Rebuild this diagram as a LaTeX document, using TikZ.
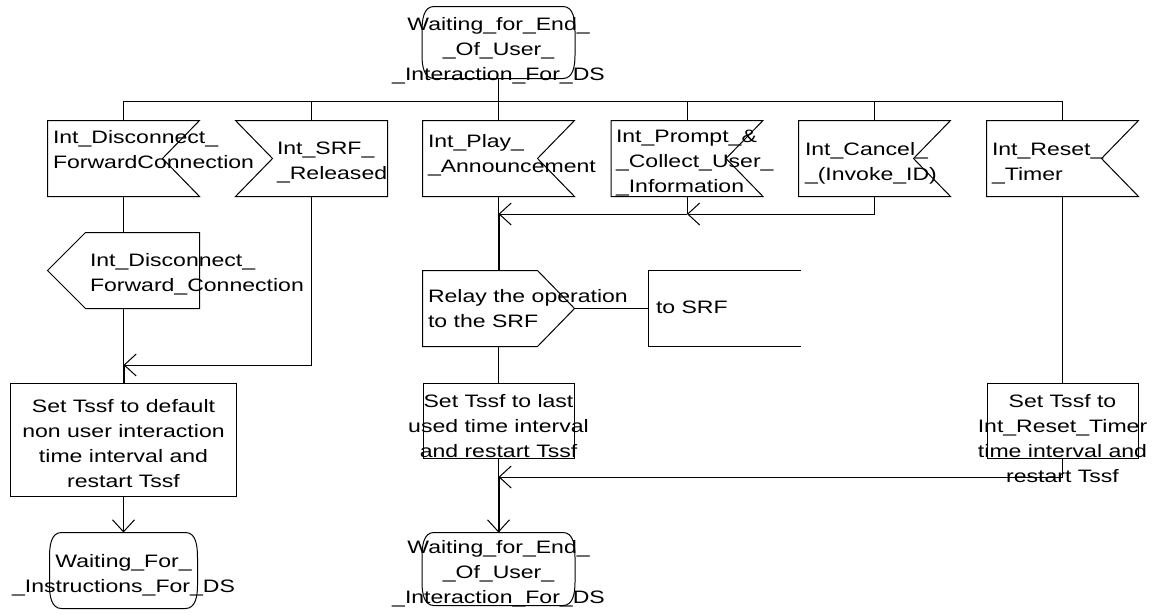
\documentclass[tikz,border=0pt]{standalone}
\usepackage{fontspec}
\setmainfont{Liberation Sans}[FakeStretch=1.28]
\usetikzlibrary{arrows.meta, positioning, calc}
\hyphenpenalty=10000

% text that may run over the edge of its symbol
\newcommand{\ctext}[2]{\smash{\makebox[0pt]{\raisebox{#1}{\begin{tabular}{@{}c@{}}#2\end{tabular}}}}}
\newcommand{\ltext}[3]{\smash{\makebox[0pt][l]{\hspace*{#1}\raisebox{#2}{\begin{tabular}{@{}l@{}}#3\end{tabular}}}}}

\tikzset{
  every node/.style={font=\fontsize{18}{25}\selectfont, inner sep=0pt},
  sdlstate/.style={minimum width=152pt, minimum height=72pt},
  sdltask/.style={draw, minimum width=151pt, minimum height=75pt},
  sdlsym/.style={minimum width=151pt, minimum height=75pt},
  merge/.style={line width=2pt},
}

\begin{document}
\begin{tikzpicture}[x=1pt, y=-1pt, line width=1pt, >={Straight Barb[length=12pt, width=22pt]}]
    \useasboundingbox (0,0) rectangle (1152,614);

    % state
    \node[sdlstate, minimum height=71pt] (waitend) at (498.5,42.5) {\ctext{-12pt}{Waiting\_for\_End\_\\\_Of\_User\_\\\_Interaction\_For\_DS}};
    \coordinate (bus) at (498.5,101);

    % inputs
    \node[sdlsym] (disc) at (123.5,158.5) {\ltext{-70.5pt}{3.5pt}{Int\_Disconnect\_\\ForwardConnection}};
    \node[sdlsym] (srfrel) at (311.5,158.5) {\ltext{-34.5pt}{-7.5pt}{Int\_SRF\_\\\_Released}};
    \node[sdlsym] (play) at (498.5,158.5) {\ltext{-70.5pt}{-0.5pt}{Int\_Play\_\\\_Announcement}};
    \node[sdlsym] (prompt) at (687,158.5) {\ltext{-71pt}{-8.5pt}{Int\_Prompt\_\&\\\_Collect\_User\_\\\_Information}};
    \node[sdlsym] (cancel) at (874.5,158.5) {\ltext{-69.5pt}{-8.5pt}{Int\_Cancel\_\\\_(Invoke\_ID)}};
    \node[sdlsym] (reset) at (1062.5,158.5) {\ltext{-70.5pt}{-8.5pt}{Int\_Reset\_\\\_Timer}};
    \foreach \n in {disc,play,prompt,cancel,reset}
        \draw (\n.north west) -- (\n.north east) -- ([xshift=-37pt]\n.east) -- (\n.south east) -- (\n.south west) -- cycle;
    \draw (srfrel.north east) -- (srfrel.north west) -- ([xshift=37pt]srfrel.west) -- (srfrel.south west) -- (srfrel.south east) -- cycle;

    % outputs
    \node[sdlsym] (discfwd) at (123.5,270.5) {\ltext{-33.5pt}{-8pt}{Int\_Disconnect\_\\Forward\_Connection}};
    \draw (discfwd.north east) -- ([xshift=38pt]discfwd.north west) -- (discfwd.west) -- ([xshift=38pt]discfwd.south west) -- (discfwd.south east) -- cycle;
    \node[sdlsym] (relay) at (498.5,308.5) {\ltext{-70.5pt}{-6pt}{Relay the operation\\to the SRF}};
    \draw (relay.north west) -- ([xshift=-37pt]relay.north east) -- (relay.east) -- ([xshift=-37pt]relay.south east) -- (relay.south west) -- cycle;
    \node[sdlsym] (tosrf) at (724.5,308.5) {\ltext{-68.5pt}{-4pt}{to SRF}};
    \draw (tosrf.north east) -- (tosrf.north west) -- (tosrf.south west) -- (tosrf.south east);

    % tasks
    \node[sdltask, minimum width=226pt, minimum height=113pt] (deftask) at (123.5,439.5) {\ctext{-9.5pt}{Set Tssf to default\\non user interaction\\time interval and\\restart Tssf}};
    \node[sdltask] (lasttask) at (498.5,420.5) {\ctext{-11.5pt}{Set Tssf to last\\used time interval\\and restart Tssf}};
    \node[sdltask] (resettask) at (1062.5,420.5) {\ctext{-24pt}{Set Tssf to\\Int\_Reset\_Timer\\time interval and\\restart Tssf}};

    % next states
    \node[sdlstate, minimum width=147pt, minimum height=75pt] (waitinstr) at (123.5,570.5) {\ctext{-8.5pt}{Waiting\_For\_\\\_Instructions\_For\_DS}};
    \node[sdlstate] (waitend2) at (498.5,569) {\ctext{-8.5pt}{Waiting\_for\_End\_\\\_Of\_User\_\\\_Interaction\_For\_DS}};
    \foreach \n in {waitend,waitinstr,waitend2}
        \draw ([xshift=12pt]\n.north west) -- ([xshift=-12pt]\n.north east)
            to[out=0,in=90] ([yshift=-25pt]\n.north east) -- ([yshift=23pt]\n.south east)
            to[out=-90,in=0] ([xshift=-12pt]\n.south east) -- ([xshift=12pt]\n.south west)
            to[out=180,in=-90] ([yshift=23pt]\n.south west) -- ([yshift=-25pt]\n.north west)
            to[out=90,in=180] cycle;

    % merge points
    \coordinate (jdisc) at (123.5,365);
    \coordinate (jprompt) at (687,214);
    \coordinate (jplay) at (498.5,214);
    \coordinate (jlast) at (498.5,477);

    % connectors
    \draw (waitend.south) -- (bus);
    \draw (disc.north |- bus) -- (reset.north |- bus);
    \foreach \n in {disc,srfrel,play,prompt,cancel,reset}
        \draw (\n.north |- bus) -- (\n.north);
    \draw (disc.south) -- (discfwd.north);
    \draw (discfwd.south) -- (jdisc);
    \draw[merge] (jdisc) -- (deftask.north);
    \draw[->] (srfrel.south) |- (jdisc);
    \draw[->] (deftask.south) -- (waitinstr.north);
    \draw[->] (cancel.south) |- (jprompt);
    \draw (prompt.south) -- (jprompt);
    \draw[->] (jprompt) -- (jplay);
    \draw (play.south) -- (jplay);
    \draw[merge] (jplay) -- (relay.north);
    \draw (relay.east) -- (tosrf.west);
    \draw (relay.south) -- (lasttask.north);
    \draw[merge] (jlast) -- (waitend2.north);
    \draw[->] (lasttask.south) -- (waitend2.north);
    \draw (reset.south) -- (resettask.north);
    \draw[->] (resettask.south) |- (jlast);
\end{tikzpicture}
\end{document}
